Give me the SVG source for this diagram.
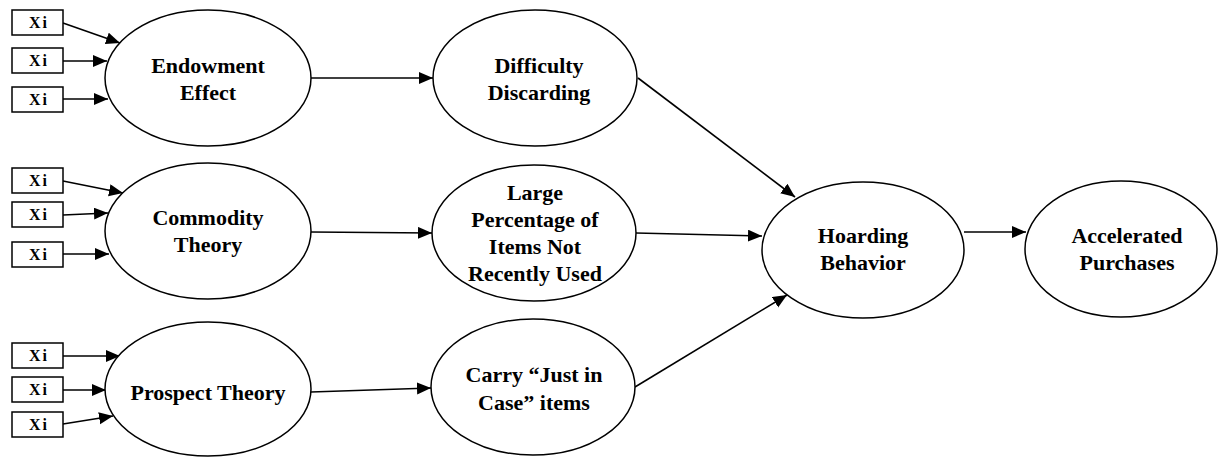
<svg xmlns="http://www.w3.org/2000/svg" width="1219" height="457" viewBox="0 0 1219 457">
<style>
.n{fill:#fff;stroke:#000;stroke-width:1.5}
.t{font-family:"Liberation Serif","Times New Roman",serif;font-weight:bold;font-size:22px;text-anchor:middle;fill:#000}
.x{font-family:"Liberation Serif","Times New Roman",serif;font-weight:bold;font-size:16px;text-anchor:middle;fill:#000;letter-spacing:2px}
.c{stroke:#000;stroke-width:1.6;fill:none;marker-end:url(#ah)}
</style>
<defs>
<marker id="ah" markerUnits="userSpaceOnUse" markerWidth="15" markerHeight="13" refX="14" refY="6" orient="auto">
<path d="M0,0 L14,6 L0,12 Z" fill="#000"/>
</marker>
</defs>
<rect width="1219" height="457" fill="#fff"/>
<g id="connectors">
<line class="c" x1="63" y1="23" x2="120" y2="43"/>
<line class="c" x1="63" y1="61" x2="107" y2="61"/>
<line class="c" x1="63" y1="99" x2="108" y2="99"/>
<line class="c" x1="63" y1="181" x2="123" y2="193"/>
<line class="c" x1="63" y1="215" x2="108" y2="213"/>
<line class="c" x1="63" y1="254" x2="109" y2="254"/>
<line class="c" x1="63" y1="356" x2="120" y2="356"/>
<line class="c" x1="63" y1="390" x2="106" y2="390"/>
<line class="c" x1="63" y1="424" x2="113" y2="416"/>
<line class="c" x1="311" y1="78" x2="433" y2="78"/>
<line class="c" x1="311" y1="232" x2="432" y2="233"/>
<line class="c" x1="311" y1="392" x2="431" y2="388"/>
<line class="c" x1="638" y1="78" x2="795" y2="197"/>
<line class="c" x1="636" y1="233" x2="762" y2="236"/>
<line class="c" x1="635" y1="387" x2="787" y2="295"/>
<line class="c" x1="964" y1="232" x2="1026" y2="232"/>
</g>
<g id="xi1"><rect class="n" x="12" y="10" width="51" height="25"/><text class="x" x="39" y="28">Xi</text></g>
<g id="xi2"><rect class="n" x="12" y="48" width="51" height="25"/><text class="x" x="39" y="66">Xi</text></g>
<g id="xi3"><rect class="n" x="12" y="87" width="51" height="25"/><text class="x" x="39" y="105">Xi</text></g>
<g id="xi4"><rect class="n" x="12" y="168" width="51" height="25"/><text class="x" x="39" y="186">Xi</text></g>
<g id="xi5"><rect class="n" x="12" y="202" width="51" height="25"/><text class="x" x="39" y="220">Xi</text></g>
<g id="xi6"><rect class="n" x="12" y="242" width="51" height="25"/><text class="x" x="39" y="260">Xi</text></g>
<g id="xi7"><rect class="n" x="12" y="343" width="51" height="25"/><text class="x" x="39" y="361">Xi</text></g>
<g id="xi8"><rect class="n" x="12" y="377" width="51" height="25"/><text class="x" x="39" y="395">Xi</text></g>
<g id="xi9"><rect class="n" x="12" y="412" width="51" height="25"/><text class="x" x="39" y="430">Xi</text></g>
<g id="endowment"><ellipse class="n" cx="208" cy="78" rx="103" ry="68"/><text class="t" x="208" y="73">Endowment</text><text class="t" x="208" y="100">Effect</text></g>
<g id="commodity"><ellipse class="n" cx="208" cy="231" rx="103" ry="68"/><text class="t" x="208" y="225">Commodity</text><text class="t" x="208" y="252">Theory</text></g>
<g id="prospect"><ellipse class="n" cx="208" cy="389" rx="103" ry="67"/><text class="t" x="208" y="400">Prospect Theory</text></g>
<g id="difficulty"><ellipse class="n" cx="535" cy="78" rx="102" ry="68"/><text class="t" x="539" y="73">Difficulty</text><text class="t" x="539" y="100">Discarding</text></g>
<g id="large"><ellipse class="n" cx="534" cy="233" rx="102" ry="68"/><text class="t" x="535" y="200">Large</text><text class="t" x="535" y="227">Percentage of</text><text class="t" x="535" y="254">Items Not</text><text class="t" x="535" y="281">Recently Used</text></g>
<g id="carry"><ellipse class="n" cx="533" cy="387" rx="102" ry="68"/><text class="t" x="534" y="382">Carry “Just in</text><text class="t" x="534" y="410">Case” items</text></g>
<g id="hoarding"><ellipse class="n" cx="863" cy="250" rx="101" ry="68"/><text class="t" x="863" y="243">Hoarding</text><text class="t" x="863" y="270">Behavior</text></g>
<g id="accelerated"><ellipse class="n" cx="1121" cy="249" rx="96" ry="68"/><text class="t" x="1127" y="243">Accelerated</text><text class="t" x="1127" y="270">Purchases</text></g>
</svg>
